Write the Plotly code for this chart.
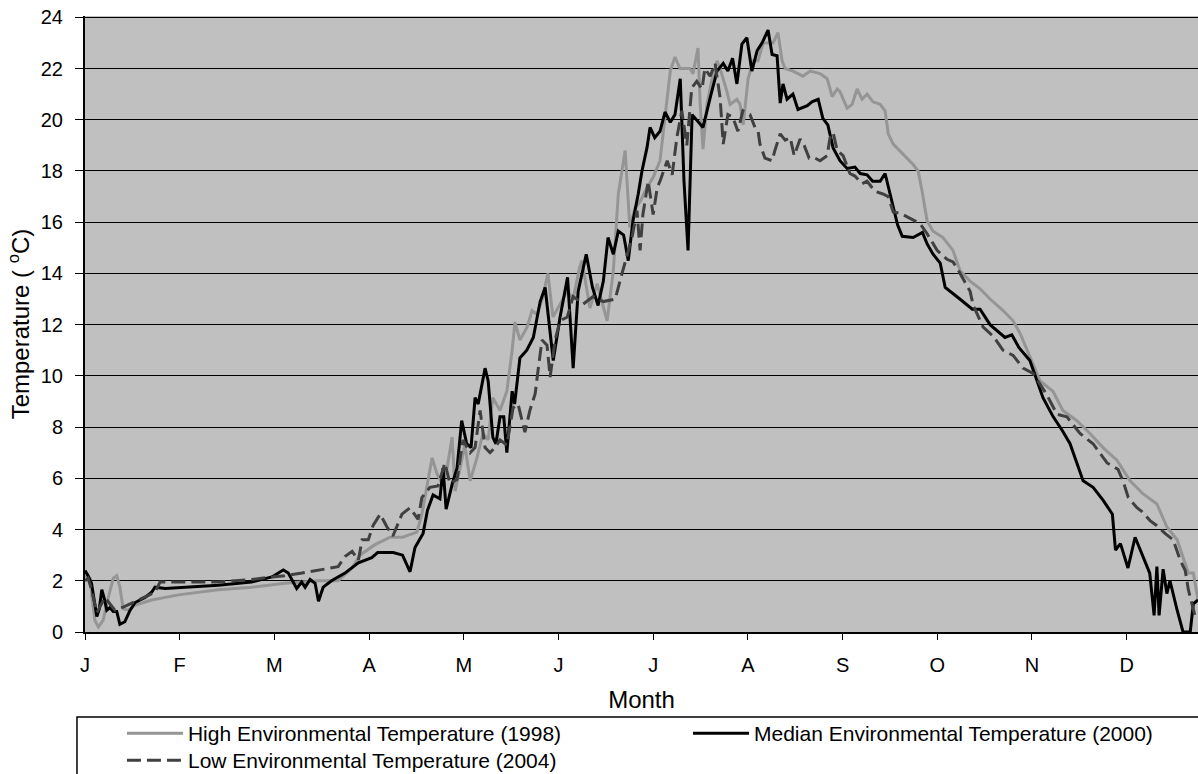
import plotly.graph_objects as go

month_labels = ["J", "F", "M", "A", "M", "J", "J", "A", "S", "O", "N", "D"]
month_ticks = [i * 365 / 12 for i in range(12)]

high_day = [0, 1.6, 2.4, 3.2, 4.3, 5.8, 7.5, 9.1, 10.2, 11.2, 12.3, 13.9, 16.1, 21.4, 30, 42.8, 53.5, 64.2, 75, 81.3,
            85.8, 88.3, 93, 98, 102, 106.6, 108.2, 109.8, 111.5, 113, 114.6, 116.3, 117.9, 118.9, 120.5, 122, 123.7,
            125.9, 127.8, 129.5, 131, 133.3, 135.5, 137.2, 138.1, 139.7, 142, 143.6, 145.2, 147, 148.7, 150.3, 152.6,
            154.9, 156.8, 158.8, 159.6, 162.2, 164.5, 167.7, 169.7, 171.3, 173.5, 175, 176.7, 178.3, 180.5, 182.5,
            184.7, 186.3, 188, 189.5, 191.1, 192.7, 194.3, 195.3, 196.9, 197.6, 198.5, 199.8, 201.4, 203, 204, 206.2,
            207.2, 209.4, 210.4, 211.4, 213, 214.6, 216.2, 217.8, 221, 222.6, 223.9, 224.9, 227.4, 230.6, 232.9,
            236.1, 238.4, 240, 241.6, 242.5, 244.8, 246.4, 248, 249.6, 251.2, 253.1, 255.4, 257, 258, 259.6, 262.8,
            266, 267.6, 268.9, 270.5, 272.4, 275.6, 278.8, 281.1, 284.3, 287.5, 290.7, 294.9, 298.1, 300.4, 303.6,
            306.8, 310.9, 314.1, 318.6, 322.8, 327, 331.5, 335.7, 339.8, 344.3, 347.5, 350.8, 352.7, 354.4, 356,
            357.5]
high_temp = [2.2, 2.1, 1.2, 0.45, 0.2, 0.45, 1.35, 2.1, 2.2, 1.75, 0.9, 0.85, 1.05, 1.25, 1.45, 1.65, 1.75, 1.9, 2.0,
             2.0, 2.5, 3.0, 3.4, 3.7, 3.7, 3.9, 4.6, 5.65, 6.8, 6.2, 5.8, 6.4, 7.6, 5.5, 6.4, 7.3, 5.9, 6.8, 7.75, 7.5,
             9.15, 8.65, 9.4, 11.0, 12.1, 11.4, 11.9, 12.55, 12.4, 13.05, 14.0, 12.3, 12.8, 13.3, 13.0, 14.2, 14.5,
             12.65, 13.6, 12.15, 14.1, 17.1, 18.8, 15.8, 16.55, 16.8, 17.35, 17.75, 18.4, 20.2, 21.9, 22.45, 22.0,
             22.0, 22.0, 21.8, 22.8, 20.6, 18.85, 20.6, 21.6, 22.3, 22.0, 21.1, 20.6, 20.8, 20.6, 19.8, 21.6, 22.3,
             22.3, 23.0, 23.0, 23.4, 22.3, 22.0, 21.9, 21.7, 21.9, 21.8, 21.6, 20.9, 21.2, 21.1, 20.45, 20.6, 21.2,
             20.8, 21.0, 20.7, 20.6, 20.35, 19.45, 19.05, 18.65, 18.25, 18.0, 17.2, 16.05, 15.65, 15.4, 14.9, 14.1,
             13.7, 13.4, 13.0, 12.55, 12.15, 11.65, 10.7, 9.8, 9.4, 8.65, 8.25, 7.75, 7.2, 6.7, 5.9, 5.4, 5.0, 4.1,
             3.6, 2.9, 2.3, 2.3, 1.25]

median_day = [0, 1, 2.1, 3, 3.8, 4.6, 5.4, 6.2, 7, 8, 9.1, 10.2, 11.2, 12.8, 14.5, 16.1, 19.3, 21.4, 22.5, 25.7, 32.1,
              42.8, 53.5, 60, 63.7, 65.3, 68, 69.6, 70.7, 72.3, 73.9, 75, 76.5, 79.2, 83.5, 87.8, 92.1, 94, 99, 102,
              104.4, 106, 108.6, 110, 111.8, 114, 115, 116, 118, 119.5, 121, 122.6, 124, 125.3, 126.3, 128.5, 129.5,
              131, 132, 133.3, 134.5, 135.5, 137.2, 138, 139.7, 141.9, 144, 146.2, 147.8, 149.4, 150.4, 152.6, 155,
              156.8, 158.4, 161, 163, 164.8, 166.5, 168, 169.7, 171.3, 173, 174.5, 176, 177.7, 178.9, 180.5, 181.5,
              183, 184.7, 186.3, 188, 189.5, 191.2, 192.4, 193.7, 195, 196.5, 198.5, 200.8, 203, 205, 206.5, 208,
              209.4, 211, 212.6, 214.2, 215.9, 217.5, 219.4, 220.7, 222.3, 223.3, 224.2, 225.5, 227.4, 229, 232,
              233.5, 235.5, 237, 238.6, 240.3, 242.5, 244.8, 247.3, 249, 251.2, 253, 255.4, 257, 258, 259.6, 261,
              262.5, 266, 269, 270.5, 272.4, 274.7, 276.3, 279, 281, 285, 287.5, 290.7, 295.5, 297.7, 300, 303.5,
              305.8, 307.7, 311, 314, 316.4, 318.6, 320.6, 323.8, 327, 330, 331, 332.6, 335, 337.3, 340, 342, 343.4,
              344.3, 345, 346.3, 347.5, 348.5, 350.8, 352.7, 355, 356, 357.5]
median_temp = [2.4, 2.2, 1.9, 1.2, 0.6, 0.9, 1.65, 1.3, 0.85, 0.95, 0.8, 0.8, 0.3, 0.4, 0.85, 1.15, 1.35, 1.55, 1.75,
               1.7, 1.75, 1.83, 1.95, 2.15, 2.42, 2.3, 1.7, 1.95, 1.75, 2.05, 1.9, 1.2, 1.75, 2.0, 2.3, 2.7, 2.9, 3.1,
               3.1, 3.0, 2.35, 3.3, 3.85, 4.75, 5.35, 5.2, 6.4, 4.8, 5.8, 6.4, 8.25, 7.35, 7.2, 9.15, 8.9, 10.3, 9.8,
               7.6, 7.35, 8.4, 8.4, 7.0, 9.4, 8.9, 10.7, 11.0, 11.5, 12.9, 13.45, 11.8, 10.6, 12.3, 13.85, 10.3, 13.3,
               14.75, 13.45, 12.75, 13.7, 15.4, 14.75, 15.65, 15.5, 14.5, 16.05, 17.1, 18.0, 18.9, 19.7, 19.3, 19.55,
               20.3, 19.9, 20.2, 21.6, 17.6, 14.9, 20.2, 20.0, 19.7, 20.85, 21.9, 22.2, 21.9, 22.4, 21.4, 22.95, 23.2,
               21.9, 22.7, 23.0, 23.5, 22.55, 22.5, 20.65, 21.4, 20.8, 21.0, 20.4, 20.55, 20.7, 20.8, 20.05, 19.8,
               18.9, 18.4, 18.1, 18.15, 17.9, 17.85, 17.6, 17.6, 17.9, 17.4, 16.55, 15.9, 15.45, 15.4, 15.6, 15.15,
               14.75, 14.4, 13.45, 13.2, 13.0, 12.6, 12.6, 12.0, 11.5, 11.6, 11.1, 10.6, 9.8, 9.15, 8.4, 7.85, 7.35,
               6.6, 5.9, 5.65, 5.15, 4.6, 3.2, 3.45, 2.5, 3.7, 2.9, 2.3, 0.65, 2.55, 0.65, 2.45, 1.5, 2.0, 0.85, 0.0,
               0.0, 1.1, 1.25]

low_day = [0, 1, 2, 3.8, 6.4, 9.6, 12.8, 19.3, 22.5, 24.1, 27.9, 32.1, 42.7, 48.2, 53.6, 60.1, 64.2, 69.7, 74.8, 81.3,
           83.5, 85.8, 87.8, 89, 91, 92.5, 94.8, 97, 98.9, 101.8, 104.4, 107, 108.2, 110.8, 113.4, 115.6, 117.2,
           119.5, 121.4, 123.7, 125.3, 126.9, 128.5, 130.1, 131.7, 133.3, 135.5, 137.5, 139.1, 140.4, 141.3, 142.9,
           144.6, 145.5, 146.8, 148.4, 149.4, 151, 152.6, 154.9, 156.8, 160, 163.2, 166.5, 170.3, 172.5, 174.1,
           175.7, 177.3, 178.3, 179.2, 180.9, 182.5, 183.8, 184.7, 187, 188.6, 190.1, 191.7, 193.3, 194.9, 196.5,
           198.2, 199.1, 200.8, 202.4, 204, 205, 206.5, 208.1, 209.7, 211.3, 213.6, 215.2, 216.2, 216.8, 218.4,
           220.7, 221.6, 223.3, 224.9, 226.5, 227.8, 229.7, 231, 232.6, 234.5, 236.1, 238.4, 239.3, 240.3, 241.6,
           243.5, 245.7, 247.3, 249.6, 251.2, 253.8, 256.3, 258, 259.6, 261.8, 265, 268.2, 270.5, 273.7, 276.9,
           278.8, 280.4, 284.3, 285.3, 288.5, 291.7, 294.9, 298.1, 301.3, 304.5, 309, 312.2, 315.4, 319.6, 323.8,
           328.3, 331.8, 333.4, 335.1, 337.9, 339.5, 342.1, 344.3, 346.9, 349.5, 351.8, 353.4, 354.4, 356.6, 357.5]
low_temp = [2.0, 2.1, 1.7, 0.75, 1.35, 0.85, 1.0, 1.35, 1.55, 1.95, 1.95, 1.95, 1.95, 2.0, 2.05, 2.15, 2.2, 2.3, 2.4,
            2.55, 2.95, 3.15, 2.8, 3.6, 3.6, 4.15, 4.6, 4.1, 3.75, 4.6, 4.85, 4.4, 5.25, 5.65, 5.7, 6.6, 5.8, 5.95,
            7.5, 7.0, 7.2, 8.65, 7.2, 7.0, 7.2, 7.5, 7.3, 8.75, 8.9, 8.25, 7.8, 8.65, 9.3, 10.2, 11.4, 11.2, 9.95,
            11.4, 12.15, 12.3, 13.1, 12.8, 13.1, 12.9, 13.0, 14.0, 14.75, 15.4, 16.45, 14.9, 16.3, 17.6, 16.3, 17.35,
            17.6, 18.4, 17.85, 19.3, 20.35, 19.0, 21.25, 21.5, 21.2, 22.0, 21.7, 22.2, 20.85, 19.05, 20.2, 20.1,
            19.55, 20.35, 20.2, 19.7, 19.55, 19.05, 18.5, 18.4, 18.8, 19.45, 19.2, 19.3, 18.6, 19.25, 19.0, 18.5,
            18.5, 18.4, 18.6, 19.3, 19.5, 18.8, 18.6, 17.9, 17.8, 17.5, 17.6, 17.2, 17.1, 17.0, 16.4, 16.35, 16.15,
            15.95, 15.55, 14.9, 14.55, 14.45, 14.15, 13.3, 12.75, 11.9, 11.55, 11.0, 10.8, 10.3, 10.1, 9.25, 8.5,
            8.4, 7.75, 7.35, 6.6, 6.35, 5.9, 5.25, 4.85, 4.7, 4.35, 4.15, 3.85, 3.6, 2.8, 2.4, 1.65, 0.6, 0.5]

FONT = "Liberation Sans, Arial, sans-serif"

fig = go.Figure()
fig.add_trace(go.Scatter(x=high_day, y=high_temp, mode="lines", name="High Environmental Temperature (1998)",
                         line=dict(color="#959595", width=3), legend="legend"))
fig.add_trace(go.Scatter(x=median_day, y=median_temp, mode="lines", name="Median Environmental Temperature (2000)",
                         line=dict(color="#000000", width=3), legend="legend2"))
fig.add_trace(go.Scatter(x=low_day, y=low_temp, mode="lines", name="Low Environmental Temperature (2004)",
                         line=dict(color="#404040", width=3, dash="14px,6px"), legend="legend3"))

leg_common = dict(orientation="v", xanchor="left", yanchor="top", borderwidth=0,
                  bgcolor="rgba(0,0,0,0)", font=dict(size=21), itemwidth=56)

fig.update_layout(
    width=1198, height=774,
    margin=dict(l=85, r=0, t=16, b=142, autoexpand=False),
    paper_bgcolor="white", plot_bgcolor="#C0C0C0",
    font=dict(family=FONT, size=20, color="black"),
    showlegend=True,
    legend=dict(x=0.0332, y=-0.1315, **leg_common),
    legend2=dict(x=0.5418, y=-0.1315, **leg_common),
    legend3=dict(x=0.0332, y=-0.1753, **leg_common),
    shapes=[dict(type="rect", xref="paper", yref="paper", x0=-0.0072, x1=1.02, y0=-0.138, y1=-0.35,
                 line=dict(color="black", width=1.5), fillcolor="rgba(0,0,0,0)", layer="below")],
)
fig.update_xaxes(range=[0, 357.5], tickvals=month_ticks, ticktext=month_labels, automargin=False,
                 ticks="outside", ticklen=6, tickwidth=1, tickcolor="black",
                 showline=True, linecolor="black", linewidth=2, showgrid=False, zeroline=False,
                 title=dict(text="Month", standoff=16), ticklabelstandoff=8)
fig.update_yaxes(range=[0, 24.05], dtick=2, tick0=0, automargin=False, ticklabeloverflow="allow",
                 ticks="outside", ticklen=8, tickwidth=1, tickcolor="black",
                 showline=True, linecolor="black", linewidth=2,
                 showgrid=True, gridcolor="black", gridwidth=1, zeroline=False,
                 title=dict(text="Temperature ( <sup>o</sup>C)", standoff=4), ticklabelstandoff=8)

fig.write_html("out.html", config={"displayModeBar": False},
               post_script="document.body.style.margin='0';document.body.style.overflow='hidden';")
